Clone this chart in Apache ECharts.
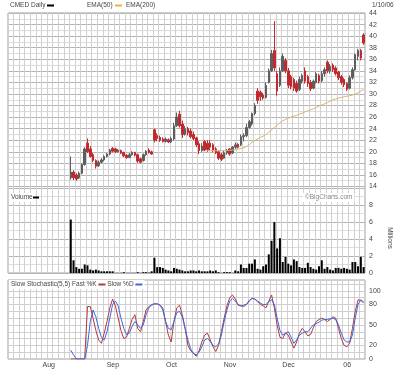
<!DOCTYPE html>
<html><head><meta charset="utf-8">
<script src="https://cdn.jsdelivr.net/npm/echarts@6/dist/echarts.min.js"></script>
<style>html,body{margin:0;padding:0;background:#fff}#c{width:400px;height:369px}</style>
</head><body><div id="c"></div>
<script>
// trading days shown on the x axis (Jul 11 2005 .. Jan 10 2006)
const dates = [
'7/11','7/12','7/13','7/14','7/15','7/18','7/19','7/20','7/21','7/22','7/25','7/26','7/27','7/28','7/29',
'8/1','8/2','8/3','8/4','8/5','8/8','8/9','8/10','8/11','8/12','8/15','8/16','8/17','8/18','8/19','8/22','8/23','8/24','8/25','8/26','8/29','8/30','8/31',
'9/1','9/2','9/6','9/7','9/8','9/9','9/12','9/13','9/14','9/15','9/16','9/19','9/20','9/21','9/22','9/23','9/26','9/27','9/28','9/29','9/30',
'10/3','10/4','10/5','10/6','10/7','10/10','10/11','10/12','10/13','10/14','10/17','10/18','10/19','10/20','10/21','10/24','10/25','10/26','10/27','10/28','10/31',
'11/1','11/2','11/3','11/4','11/7','11/8','11/9','11/10','11/11','11/14','11/15','11/16','11/17','11/18','11/21','11/22','11/23','11/25','11/28','11/29','11/30',
'12/1','12/2','12/5','12/6','12/7','12/8','12/9','12/12','12/13','12/14','12/15','12/16','12/19','12/20','12/21','12/22','12/23','12/27','12/28','12/29','12/30',
'1/3','1/4','1/5','1/6','1/9','1/10'];
const firstBarDate = '8/10';
const monthTickDates = ['8/1','9/1','10/3','11/1','12/1','1/3'];
const monthTickLabels = ['Aug','Sep','Oct','Nov','Dec','06'];

const open = [15.5,16.5,16,15.5,16.3,17.8,21.5,20.5,19.5,18.5,
17.6,18.2,18.6,19.2,19.6,20.6,20.5,20,20.2,19.9,
19.4,19.0,19.5,19.9,19.5,18.8,18.5,19.5,20.3,20,
23.8,22.8,22.5,22.2,21.8,22.1,21.7,22.2,24.5,26.5,
24.8,23,24,23.6,23,22.4,21.4,20.2,21.8,21.5,
21.5,21.2,20.5,20,19.5,18.9,19.8,20.5,19.8,20.8,
21.3,21.2,22.6,22.8,24.2,24.8,26.6,30.5,30.3,29.8,
29.4,32,34,37.5,33.5,31.5,34,35.8,34,33,
32.5,31.8,30.8,32.2,34,33,32,31,32,33.2,
32.3,33.5,35.5,34,35,34.5,33.8,33,32.5,31.8,
31,32.8,34.2,36.5,37.5,40.2];
const close = [16.5,15.5,15.3,16.3,17.8,20.5,20,19.2,18.5,17.5,
18.2,18.6,19.2,19.6,20.3,20.1,20,20.3,19.8,19.3,
19.0,19.5,19.9,19.4,18.4,18.2,19.5,20.1,19.9,19.6,
22,22.3,22,21.8,22.2,21.7,22.3,24.5,26,24.5,
23,24,23.3,22.6,22.3,21.2,20.2,21,20.3,20.4,
20.8,20.2,19.8,18.9,18.7,19.8,20.3,19.6,20.8,21.2,
20.8,22.6,22.8,24.2,25.2,26.6,28,28.9,29.5,29.3,
31.5,34,37,34.5,30.5,34,36.5,34,31.5,31.2,
31,30.5,32.5,33.2,32.2,31.8,30.9,32.2,33.5,32.2,
33.5,34.2,34,34.8,34.2,33.5,32.8,32,31.6,30.8,
32.8,34.2,36.8,37.5,36.2,38.8];
const low = [15.2,15.1,15.0,15.3,16.1,17.6,19.8,19,18.2,17.1,
17.4,18,18.4,19,19.4,19.9,19.8,19.9,19.6,19.1,
18.8,18.9,19.3,19.2,18.1,18,18.3,19.3,19.7,19.5,
21.6,21.8,21.7,21.6,21.6,21.5,21.5,22,24.3,24.2,
22.4,22.8,22.8,22.3,22,20.8,19.6,20,20.1,20,
20.2,19.9,19.6,18.6,18.4,18.8,19.5,19.3,19.6,20.5,
20.6,21.0,21.8,22.5,24,24.5,26.3,28.3,28.8,29,
29.2,31.8,33.8,34,29.7,31.2,33.8,33.6,31,30.8,
30.5,30.2,30.5,31.8,31.8,31.2,30.5,30.8,31.8,31.8,
32,33,33.6,33.5,33.8,33.2,32.4,31.6,31.2,30.5,
30.8,32.5,34,35.8,35.8,38.5];
const high = [19.2,16.8,16.3,16.6,18,20.8,22.3,21,19.8,18.7,
18.5,18.9,19.4,19.8,20.5,20.8,20.7,20.5,20.4,20,
19.6,19.8,20.1,20,19.7,19,19.7,20.3,20.6,20.2,
24,23.2,22.8,22.5,22.5,22.3,22.6,25,26.8,27.1,
25.4,24.5,24.3,24,23.5,22.6,21.8,21.5,22,22,
22,21.5,20.8,20.2,19.8,20.2,20.5,20.6,21,21.6,
21.5,23,23.2,24.8,25.5,26.8,28.4,31,30.6,30.2,
32,34.4,37.6,42.6,34,34.6,37,36.2,34.5,33.3,
32.8,32.3,33,33.5,34.6,33.3,32.4,32.5,33.8,33.5,
34,34.6,35.8,35.2,35.3,34.8,34,33.3,32.8,32,
33.2,34.6,37,37.8,37.8,40.5];
// EMA(50), drawn over the last trading days
const ema50 = [20.2,20.2,20.2,20.2,20.2,20.2,20.2,20.2,20.25,20.3,
20.35,20.45,20.55,20.7,20.9,21.2,21.7,21.95,22.2,22.5,
22.7,23.0,23.4,23.8,24.2,24.6,25.0,25.35,25.6,25.8,
26.0,26.15,26.3,26.5,26.7,26.9,27.05,27.25,27.45,27.65,
27.9,28.1,28.3,28.5,28.75,29.0,29.15,29.3,29.4,29.5,
29.6,29.7,29.8,30.0,30.2,30.5,30.8];
// volume, millions
const volume = [6.3,1.5,0.7,0.5,0.5,1.0,0.9,0.4,0.3,0.4,
0.3,0.2,0.2,0.2,0.2,0.2,0.02,0.02,0.02,0.1,
0.02,0.02,0.02,0.02,0.1,0.02,0.1,0.1,0.05,0.2,
1.8,0.7,0.7,0.6,0.4,0.3,0.2,0.6,0.5,0.4,
0.3,0.2,0.2,0.3,0.3,0.2,0.3,0.2,0.2,0.2,
0.3,0.2,0.3,0.1,0.02,0.1,0.1,0.1,0.02,0.3,
0.2,1.0,0.6,0.6,1.1,1.1,1.6,0.5,0.4,0.8,
1.0,2.2,3.8,6.0,2.9,4.1,1.3,1.9,1.1,0.9,
1.6,1.4,0.7,0.6,0.6,1.2,0.7,0.5,0.4,0.8,
1.5,0.5,0.7,0.4,0.3,0.6,0.6,0.5,0.6,0.5,
0.4,1.3,1.3,0.8,1.9,0.7];
const fastK = [0,0,0,0,0,0,77,77,60,42,
28,23,38,55,75,88,78,60,42,30,
32,45,58,65,45,40,55,72,77,79,
81,81,79,75,55,35,25,55,75,79,
65,45,20,12,8,4,12,25,35,38,
28,18,11,20,40,60,78,90,94,88,
79,78,79,80,85,89,88,84,80,78,
75,85,94,75,50,32,30,38,35,25,
16,25,38,45,40,34,36,46,55,58,
60,58,55,58,62,60,45,30,20,18,
23,45,70,87,86,84];
const slowD = [13,6,0,0,0,0,20,55,72,62,
45,32,28,40,60,80,85,78,60,45,
36,38,48,55,50,45,50,65,75,80,
81,81,79,72,55,45,43,55,68,70,
62,45,28,15,8,6,10,18,28,30,
26,20,18,22,35,55,72,85,89,85,
80,78,77,80,86,89,88,85,82,80,
80,84,87,80,60,42,35,38,40,32,
23,28,35,38,40,40,45,50,52,54,
57,58,58,59,60,58,50,38,28,25,
25,35,60,80,87,82];
const stochTicks = [0,20,50,80,100];

const barDates = dates.slice(dates.indexOf(firstBarDate));
const emaDates = barDates.slice(barDates.length - ema50.length);
const FONT = 'Liberation Sans';
const TXT = '#444';
const F7 = '6.5px "Liberation Sans"';
const chart = echarts.init(document.getElementById('c'));

function xAx(gi, showLabel) {
  return {
    type: 'category', gridIndex: gi, data: dates, boundaryGap: true,
    axisLine: {show: false}, axisTick: {show: false},
    splitLine: {show: true, interval: 1, lineStyle: {color: '#d0d0d0', width: 1}},
    axisLabel: showLabel ? {
      show: true, fontFamily: FONT, fontSize: 7, color: TXT, margin: 3, padding: [0, 5, 0, 0],
      interval: (i, v) => monthTickDates.indexOf(v) >= 0,
      formatter: v => monthTickLabels[monthTickDates.indexOf(v)] || ''
    } : {show: false}
  };
}
function yAx(gi, o) {
  return Object.assign({
    type: 'value', gridIndex: gi, position: 'right', scale: false,
    axisLine: {show: false}, axisTick: {show: false},
    splitLine: {show: true, lineStyle: {color: '#b4b4b4', width: 1}},
    minorTick: {show: false, splitNumber: 2},
    minorSplitLine: {show: true, lineStyle: {color: '#dcdcdc', width: 1}}
  }, o);
}
const lab = {fontFamily: FONT, fontSize: 7, color: TXT, margin: 4};

const option = {
  animation: false,
  backgroundColor: '#fff',
  grid: [
    {left: 8, right: 35, top: 13, height: 173.5, show: true, borderColor: '#a0a0a0', borderWidth: 1},
    {left: 8, right: 35, top: 186.5, height: 86.5, show: true, borderColor: '#a0a0a0', borderWidth: 1},
    {left: 8, right: 35, top: 280, height: 79, show: true, borderColor: '#a0a0a0', borderWidth: 1}
  ],
  xAxis: [xAx(0, false), xAx(1, false), xAx(2, true)],
  yAxis: [
    yAx(0, {min: 14, max: 44, interval: 2, axisLabel: Object.assign({}, lab)}),
    yAx(1, {min: 0, max: 10.2, interval: 2,
      axisLabel: Object.assign({showMaxLabel: false, formatter: v => v <= 8 ? String(v) : ''}, lab)}),
    yAx(2, {min: 0, max: 116, interval: 10,
      axisLabel: Object.assign({showMaxLabel: false, formatter: v => stochTicks.indexOf(v) >= 0 ? String(v) : ''}, lab),
      minorSplitLine: {show: false},
      splitLine: {show: true, lineStyle: {color: '#cfcfcf', width: 1}}})
  ],
  series: [
    {
      type: 'candlestick', xAxisIndex: 0, yAxisIndex: 0, barWidth: 2,
      encode: {x: 0, y: [1, 2, 3, 4]},
      data: barDates.map((d, i) => [d, open[i], close[i], low[i], high[i]]),
      itemStyle: {color: '#5e5e5e', borderColor: '#5e5e5e', color0: '#c02a2f', borderColor0: '#c02a2f', borderWidth: 1}
    },
    {
      type: 'line', xAxisIndex: 0, yAxisIndex: 0, symbol: 'none',
      data: emaDates.map((d, i) => [d, ema50[i]]),
      lineStyle: {color: '#d8b47a', width: 1}
    },
    {
      type: 'bar', xAxisIndex: 1, yAxisIndex: 1, barWidth: 2,
      data: barDates.map((d, i) => [d, volume[i]]),
      itemStyle: {color: '#000'}
    },
    {
      type: 'line', xAxisIndex: 2, yAxisIndex: 2, symbol: 'none',
      data: barDates.map((d, i) => [d, fastK[i]]),
      lineStyle: {color: '#b23a3a', width: 1}
    },
    {
      type: 'line', xAxisIndex: 2, yAxisIndex: 2, symbol: 'none',
      data: barDates.map((d, i) => [d, slowD[i]]),
      lineStyle: {color: '#3a68e0', width: 1}
    }
  ],
  graphic: [
    {type: 'text', left: 10, top: 2, style: {text: 'CMED Daily', font: F7, fill: TXT}},
    {type: 'rect', left: 47, top: 4.5, shape: {width: 7, height: 2}, style: {fill: '#000'}},
    {type: 'text', left: 87, top: 2, style: {text: 'EMA(50)', font: F7, fill: TXT}},
    {type: 'rect', left: 115, top: 4.5, shape: {width: 7, height: 2}, style: {fill: '#e6b43c'}},
    {type: 'text', left: 126, top: 2, style: {text: 'EMA(200)', font: F7, fill: TXT}},
    {type: 'text', left: 372, top: 2, style: {text: '1/10/06', font: F7, fill: TXT}},
    {type: 'text', left: 9, top: 193, z: 100, style: {text: 'Volume', font: F7, fill: TXT, backgroundColor: '#fff', padding: [1, 2, 1, 2]}},
    {type: 'rect', left: 33, top: 196.5, z: 100, shape: {width: 6, height: 2}, style: {fill: '#000'}},
    {type: 'text', left: 303, top: 193, z: 100, style: {text: '\u00a9BigCharts.com', font: F7, fill: '#888', backgroundColor: '#fff', padding: [1, 2, 1, 2]}},
    {type: 'text', left: 9, top: 280, z: 100, style: {
      text: 'Slow Stochastic(5,5) Fast %K {r|} Slow %D {b|}',
      font: F7, fill: TXT, backgroundColor: '#fff', padding: [1, 2, 1, 2],
      rich: {r: {width: 7, height: 2, backgroundColor: '#b23a3a'}, b: {width: 7, height: 2, backgroundColor: '#3a68e0'}}
    }},
    {type: 'text', x: 390, y: 238, rotation: -Math.PI / 2, style: {text: 'Millions', font: F7, fill: TXT, align: 'center', verticalAlign: 'middle'}}
  ]
};
chart.setOption(option);
</script>
</body></html>
